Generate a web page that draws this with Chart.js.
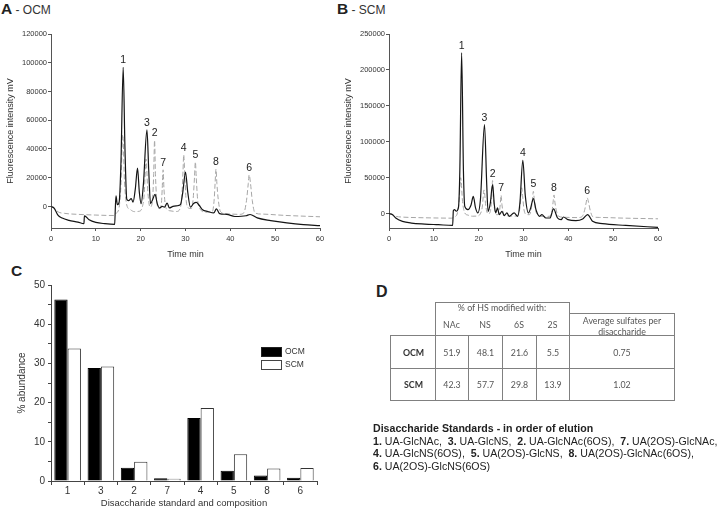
<!DOCTYPE html>
<html lang="en">
<head>
<meta charset="UTF-8">
<title>HS disaccharide analysis</title>
<style>
  body { margin: 0; background: #fff; }
  #page { position: relative; width: 720px; height: 509px; overflow: hidden; font-family: "Liberation Sans", Arial, sans-serif; color: #222; }
  canvas { position: absolute; }
  .txt { position: absolute; white-space: nowrap; }
  .cell { position: absolute; box-sizing: border-box; border: 1px solid #808080; font-family: Lato, "Open Sans", sans-serif; font-size: 8.8px; color: #555; text-align: center; display: flex; align-items: center; justify-content: center; line-height: 11px; }
  .legbox { position: absolute; width: 21px; height: 10px; box-sizing: border-box; border: 1px solid #222; }
</style>
</head>
<body>
<div id="page">
  <div class="txt" style="left:1px;top:0px;"><b style="font-size:15.5px">A</b><span style="font-size:12px;color:#333"> - OCM</span></div>
  <div class="txt" style="left:337px;top:0px;"><b style="font-size:15.5px">B</b><span style="font-size:12px;color:#333"> - SCM</span></div>
  <div class="txt" style="left:11px;top:262px;"><b style="font-size:15.5px">C</b></div>
  <div class="txt" style="left:376px;top:283px;"><b style="font-size:16px">D</b></div>

  <canvas id="chartA" width="340" height="250" style="left:0;top:20px"></canvas>
  <canvas id="chartB" width="340" height="250" style="left:338px;top:20px"></canvas>
  <canvas id="chartC" width="400" height="237" style="left:0;top:272px"></canvas>

  <div class="legbox" style="left:261px;top:347px;background:#000"></div>
  <div class="txt" style="left:285px;top:346px;font-size:8.5px;color:#333">OCM</div>
  <div class="legbox" style="left:261px;top:360px;background:#fff;border-color:#444"></div>
  <div class="txt" style="left:285px;top:359px;font-size:8.5px;color:#333">SCM</div>

  <div id="tableD"></div>
  <div id="standardsText" class="txt" style="left:373px;top:422px;font-size:10.6px;line-height:12.6px;color:#222"></div>
</div>

<script src="https://cdn.jsdelivr.net/npm/chart.js"></script>
<script>
// ---- chromatograms: [time (min), fluorescence (mV)] ----
const standardsTrace = [
  [0, 0], [0.8, -1500], [1.6, -3800], [3, -4800], [6, -5500], [10, -6000], [14, -6300],
  [14.6, -4500], [15.2, -500], [15.6, 15000], [16.0, 50000], [16.4, 17000], [16.9, 1000],
  [17.6, -2000], [18.6, -3600], [19.6, -3400], [20.3, -1000], [20.8, 9000], [21.2, 33000],
  [21.6, 10000], [22.1, -500], [22.6, 3000], [22.9, 22000], [23.1, 46000], [23.3, 22000],
  [23.7, 1000], [24.1, -1500], [24.6, 1500], [24.8, 12000], [25.0, 25500], [25.2, 12000],
  [25.6, -800], [26.5, -3000], [28.0, -3500], [28.8, -1500], [29.2, 8000], [29.45, 25000],
  [29.6, 36000], [29.8, 25000], [30.1, 6000], [30.6, -1000], [31.3, -1500], [31.7, 5000],
  [32.0, 20000], [32.2, 31000], [32.4, 20000], [32.7, 5000], [33.2, -1500], [34.5, -4000],
  [36.0, -3500], [36.4, 5000], [36.6, 16000], [36.8, 26000], [37.0, 16000], [37.3, 5000],
  [37.8, -3500], [39.0, -5000], [42.0, -5500], [43.0, -4500], [43.6, 4000], [44.0, 16000],
  [44.2, 22000], [44.5, 16000], [44.9, 4000], [45.5, -4500], [47, -5300], [52, -6200], [60, -7200]
];

const ocmTrace = [
  [0, 0], [0.7, -1100], [1.5, -5800], [2.5, -8100], [4, -9700], [6, -10900], [7.35, -12000],
  [7.45, -6500], [8.5, -9300], [10, -11100], [12, -12000], [14.2, -12500], [14.35, -1000],
  [14.5, 7400], [14.8, 1200], [15.2, 3000], [15.6, 30000], [16.1, 96800], [16.5, 40000],
  [16.9, 5000], [17.3, 4000], [17.9, 5500], [18.3, 3000], [18.8, 12000], [19.3, 26600],
  [19.7, 10000], [20.1, 2000], [20.6, 15000], [21.4, 53300], [21.8, 25000], [22.2, 2000],
  [22.7, 5000], [23.2, 8500], [23.7, 2000], [24.2, -1000], [24.8, 0], [25.3, -500],
  [25.9, 2300], [26.4, -1000], [27.2, 0], [28.2, 500], [28.9, 1500], [29.4, 10000],
  [30.0, 23900], [30.5, 10000], [31.1, -500], [31.8, 2000], [32.4, 2800], [33.0, 1000],
  [33.8, -2300], [35.0, -3500], [36.3, -4500], [36.9, -1700], [37.6, -5000], [39.2, -5500],
  [41.0, -7000], [43.5, -6500], [44.4, -5600], [46.0, -8000], [49, -9900], [52.6, -11500],
  [56.3, -12700], [60, -13400]
];

const scmTrace = [
  [0, 0], [0.8, -1400], [1.5, -6100], [3, -10700], [5, -13100], [8, -14500], [11, -15400],
  [14.2, -16400], [14.35, 4000], [14.6, 5600], [15.0, 3300], [15.5, 9000], [15.8, 60000],
  [16.2, 224000], [16.6, 60000], [16.9, 10100], [17.6, 5600], [18.3, 12000], [18.8, 24000],
  [19.3, 8000], [19.8, 1000], [20.4, 20000], [21.3, 124000], [21.8, 40000], [22.1, 3200],
  [22.6, 15000], [23.1, 40300], [23.5, 12000], [23.8, 1000], [24.2, 7900], [24.6, -1400],
  [25.2, 3200], [25.7, -2800], [26.3, 1000], [26.8, -3700], [27.9, 1000], [28.7, -3700],
  [29.2, 15000], [29.85, 74300], [30.4, 25000], [31.1, 900], [31.6, 8000], [32.2, 21000],
  [32.8, 5000], [33.6, -3700], [34.1, -1400], [35.0, -6100], [35.9, -6100], [36.7, 6500],
  [37.6, -6100], [38.4, -8400], [38.9, -4700], [39.9, -8400], [41.7, -9800], [43.2, -7500],
  [44.3, -1400], [45.4, -10700], [47.6, -14000], [52.8, -16400], [60, -19200]
];

// peak numbers and their elution times
const peakLabelsA = [['1', 16.1], ['3', 21.4], ['2', 23.1], ['7', 25.0], ['4', 29.6], ['5', 32.2], ['8', 36.8], ['6', 44.2]];
const peakLabelsB = [['1', 16.2], ['3', 21.3], ['2', 23.1], ['7', 25.0], ['4', 29.85], ['5', 32.2], ['8', 36.8], ['6', 44.2]];

const timeTicks = [0, 10, 20, 30, 40, 50, 60];
const yTicksA = [0, 20000, 40000, 60000, 80000, 100000, 120000];
const yTicksB = [0, 50000, 100000, 150000, 200000, 250000];

// ---- panel C: % abundance ----
const disaccharides = ['1', '3', '2', '7', '4', '5', '8', '6'];
const ocmAbundance = [46.3, 28.8, 3.4, 0.7, 16.1, 2.6, 1.4, 0.85];
const scmAbundance = [33.8, 29.2, 4.9, 0.6, 18.6, 6.8, 3.2, 3.3];

// ---- panel D ----
const hsColumns = ['NAc', 'NS', '6S', '2S'];
const hsRows = [
  ['OCM', '51.9', '48.1', '21.6', '5.5', '0.75'],
  ['SCM', '42.3', '57.7', '29.8', '13.9', '1.02']
];
const standardNames = [
  ['1', 'UA-GlcNAc'], ['3', 'UA-GlcNS'], ['2', 'UA-GlcNAc(6OS)'], ['7', 'UA(2OS)-GlcNAc'],
  ['4', 'UA-GlcNS(6OS)'], ['5', 'UA(2OS)-GlcNS'], ['8', 'UA(2OS)-GlcNAc(6OS)'],
  ['6', 'UA(2OS)-GlcNS(6OS)']
];

Chart.defaults.font.family = '"Liberation Sans", Arial, sans-serif';

const toPoints = arr => arr.map(p => ({ x: p[0], y: p[1] }));

// writes the peak numbers just above the tallest trace at each peak
const peakLabelPlugin = {
  id: 'peakLabels',
  afterDatasetsDraw(chart, args, opts) {
    const { ctx, scales: { x, y } } = chart;
    ctx.save();
    ctx.font = '10.5px "Liberation Sans", Arial, sans-serif';
    ctx.fillStyle = '#222';
    ctx.textAlign = 'center';
    ctx.textBaseline = 'bottom';
    opts.labels.forEach(([txt, t]) => {
      let top = -Infinity;
      chart.data.datasets.forEach(ds => ds.data.forEach(p => {
        if (Math.abs(p.x - t) < 0.3 && p.y > top) top = p.y;
      }));
      ctx.fillText(txt, x.getPixelForValue(t), y.getPixelForValue(top) - 1.5);
    });
    ctx.restore();
  }
};

function chromChart(id, sample, yMin, yMax, yTicks, labels) {
  return new Chart(document.getElementById(id), {
    type: 'line',
    data: {
      datasets: [
        { data: toPoints(sample), borderColor: '#151515', borderWidth: 1.2, pointRadius: 0, cubicInterpolationMode: 'monotone' },
        { data: toPoints(standardsTrace), borderColor: '#a6a6a6', borderWidth: 1, borderDash: [5, 2.5], pointRadius: 0, cubicInterpolationMode: 'monotone' }
      ]
    },
    options: {
      responsive: false,
      animation: false,
      layout: { padding: { top: 14, right: 20, left: 0, bottom: 0 } },
      plugins: { legend: { display: false }, tooltip: { enabled: false }, peakLabels: { labels: labels } },
      scales: {
        x: {
          type: 'linear', min: 0, max: 60,
          afterBuildTicks: s => { s.ticks = timeTicks.map(v => ({ value: v })); },
          ticks: { font: { size: 7.5 }, color: '#333', padding: 3, maxRotation: 0, callback: v => v },
          grid: { drawOnChartArea: false, tickLength: 3, color: '#555' },
          border: { color: '#555' },
          title: { display: true, text: 'Time min', font: { size: 9 }, color: '#333', padding: { top: 0, bottom: 10 } },
          afterFit: s => { s.height = 42; }
        },
        y: {
          min: yMin, max: yMax,
          afterBuildTicks: s => { s.ticks = yTicks.map(v => ({ value: v })); },
          ticks: { font: { size: 7.5 }, color: '#333', padding: 1, callback: v => v },
          grid: { drawOnChartArea: false, tickLength: 3, color: '#555' },
          border: { color: '#555' },
          title: { display: true, text: 'Fluorescence intensity mV', font: { size: 9 }, color: '#333', padding: { top: 5, bottom: 0 } },
          afterFit: s => { s.width = 51; }
        }
      }
    },
    plugins: [peakLabelPlugin]
  });
}

chromChart('chartA', ocmTrace, -15000, 120000, yTicksA, peakLabelsA);
chromChart('chartB', scmTrace, -20000, 250000, yTicksB, peakLabelsB);

new Chart(document.getElementById('chartC'), {
  type: 'bar',
  data: {
    labels: disaccharides,
    datasets: [
      { label: 'OCM', data: ocmAbundance, backgroundColor: '#000', borderColor: '#000', borderWidth: 1 },
      { label: 'SCM', data: scmAbundance, backgroundColor: '#fff', borderColor: '#333', borderWidth: 1 }
    ]
  },
  options: {
    responsive: false,
    animation: false,
    layout: { padding: { top: 13, right: 83, left: 0, bottom: 0 } },
    datasets: { bar: { categoryPercentage: 0.8, barPercentage: 1.0 } },
    plugins: { legend: { display: false }, tooltip: { enabled: false } },
    scales: {
      x: {
        ticks: { font: { size: 10 }, color: '#333', padding: 0 },
        grid: { drawOnChartArea: false, tickLength: 4, color: '#444' },
        border: { color: '#444' },
        title: { display: true, text: 'Disaccharide standard and composition', font: { size: 9.5 }, color: '#333', padding: { top: 0, bottom: 0 } },
        afterFit: s => { s.height = 28; }
      },
      y: {
        min: 0, max: 50,
        ticks: { stepSize: 5, font: { size: 10 }, color: '#333', padding: 3, callback: v => (v % 10 === 0 ? v : '') },
        grid: { drawOnChartArea: false, tickLength: 3, color: '#444' },
        border: { color: '#444' },
        title: { display: true, text: '% abundance', font: { size: 10 }, color: '#333', padding: { top: 16, bottom: 0 } },
        afterFit: s => { s.width = 51; }
      }
    }
  }
});

// table D, built from the arrays above
const colEdges = [435, 468, 502, 536, 569, 674];
const rowEdges = [335, 368, 400];
const tbl = document.getElementById('tableD');
function cell(x0, y0, x1, y1, html, extra) {
  const d = document.createElement('div');
  d.className = 'cell';
  d.style.left = x0 + 'px'; d.style.top = y0 + 'px';
  d.style.width = (x1 - x0 + 1) + 'px'; d.style.height = (y1 - y0 + 1) + 'px';
  d.innerHTML = html;
  if (extra) Object.assign(d.style, extra);
  tbl.appendChild(d);
  return d;
}
cell(colEdges[0], 302, colEdges[4], rowEdges[0], '', {});
const hdr = document.createElement('div');
hdr.className = 'txt';
hdr.style.cssText = 'left:435px;top:302px;width:134px;text-align:center;font-family:Lato,sans-serif;font-size:8.8px;color:#555;line-height:12px;';
hdr.textContent = '% of HS modified with:';
tbl.appendChild(hdr);
hsColumns.forEach((c, i) => {
  const d = document.createElement('div');
  d.className = 'txt';
  d.style.cssText = 'top:319px;text-align:center;font-family:Lato,sans-serif;font-size:8.8px;color:#555;line-height:12px;';
  d.style.left = colEdges[i] + 'px';
  d.style.width = (colEdges[i + 1] - colEdges[i]) + 'px';
  d.textContent = c;
  tbl.appendChild(d);
});
cell(colEdges[4], 313, colEdges[5], rowEdges[0], 'Average sulfates per<br>disaccharide', { lineHeight: '11px', alignItems: 'flex-start', paddingTop: '1px' });
hsRows.forEach((row, r) => {
  cell(390, rowEdges[r], colEdges[0], rowEdges[r + 1], '<b>' + row[0] + '</b>', { color: '#333', borderRight: 'none' });
  for (let c = 1; c < row.length; c++) {
    cell(colEdges[c - 1], rowEdges[r], colEdges[c], rowEdges[r + 1], row[c]);
  }
});

// standards list
const parts = standardNames.map(([n, name]) => '<b>' + n + '.</b> ' + name);
document.getElementById('standardsText').innerHTML =
  '<b>Disaccharide Standards - in order of elution</b><br>' +
  parts.slice(0, 4).join(',&nbsp; ') + ',<br>' +
  parts.slice(4, 7).join(',&nbsp; ') + ',<br>' +
  parts[7];
</script>
</body>
</html>
